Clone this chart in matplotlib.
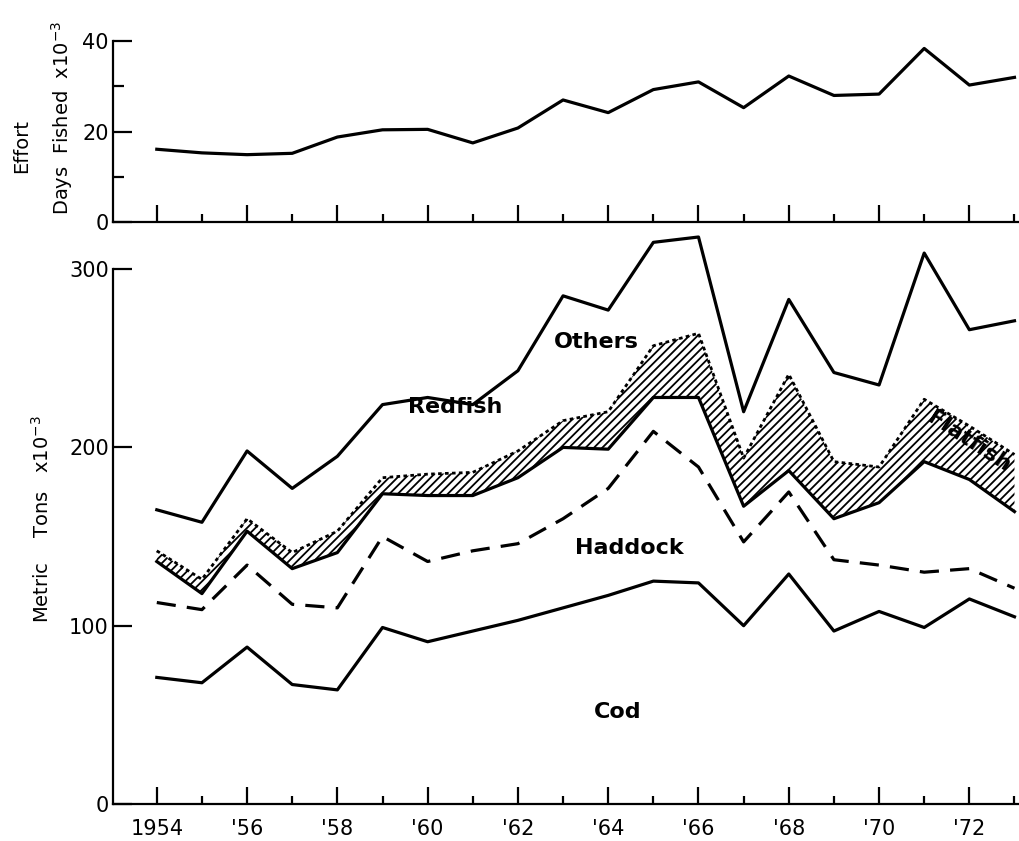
import numpy as np
from matplotlib import pyplot as plt
from matplotlib.ticker import MultipleLocator, FixedLocator

# years and values (thousands)
years = np.arange(1954, 1974)
effort = [16.1, 15.3, 14.9, 15.2, 18.8, 20.4, 20.5, 17.5, 20.8, 27.0,
          24.2, 29.3, 31.0, 25.3, 32.3, 28.0, 28.3, 38.4, 30.3, 32.0]
# cumulative catch levels, bottom band to top band
cod = [71, 68, 88, 67, 64, 99, 91, 97, 103, 110,
       117, 125, 124, 100, 129, 97, 108, 99, 115, 105]
haddock_top = [113, 109, 134, 112, 110, 150, 136, 142, 146, 160,
               177, 209, 189, 147, 175, 137, 134, 130, 132, 121]
redfish_top = [136, 118, 153, 132, 141, 174, 173, 173, 183, 200,
               199, 228, 228, 167, 187, 160, 169, 192, 182, 164]
flatfish_top = [142, 126, 160, 141, 153, 183, 185, 186, 198, 215,
                220, 257, 264, 194, 241, 192, 189, 227, 212, 196]
total = [165, 158, 198, 177, 195, 224, 228, 224, 243, 285,
         277, 315, 318, 220, 283, 242, 235, 309, 266, 271]
tick_labels = ["1954", "'56", "'58", "'60", "'62", "'64", "'66", "'68", "'70", "'72"]

plt.rcParams['font.family'] = 'DejaVu Sans'
plt.rcParams['hatch.linewidth'] = 1.3

fig = plt.figure(figsize=(10.19, 8.41), dpi=100)
ax_top = fig.add_axes([0.1109, 0.736, 0.8891, 0.215])
ax = fig.add_axes([0.1109, 0.044, 0.8891, 0.692])

lw = 2.3
# --- effort panel
ax_top.plot(years, effort, c='black', lw=lw)
ax_top.set_ylim(0, 40)
ax_top.yaxis.set_major_locator(FixedLocator([0, 20, 40]))
ax_top.yaxis.set_minor_locator(FixedLocator([10, 30]))

# --- catch panel
ax.plot(years, cod, c='black', lw=lw)
ax.plot(years, haddock_top, c='black', lw=lw, dashes=(6, 3.5))
ax.plot(years, redfish_top, c='black', lw=lw)
ax.fill_between(years, redfish_top, flatfish_top, facecolor='none',
                edgecolor='black', hatch='////', linewidth=0)
ax.plot(years, flatfish_top, c='black', lw=2.0, dashes=(1.3, 1.2))
ax.plot(years, total, c='black', lw=lw)
ax.set_ylim(0, 326.4)
ax.yaxis.set_major_locator(FixedLocator([0, 100, 200, 300]))
ax.spines['left'].set_bounds(0, 300)

for a in (ax_top, ax):
    a.set_xlim(1953.03, 1973.1)
    a.xaxis.set_major_locator(MultipleLocator(2))
    a.xaxis.set_minor_locator(MultipleLocator(1))
    a.spines['top'].set_visible(False)
    a.spines['right'].set_visible(False)
    for s in ('left', 'bottom'):
        a.spines[s].set_linewidth(1.6)
    a.tick_params(axis='both', which='major', direction='in', length=12,
                  width=1.6, labelsize=15, pad=3)
    a.tick_params(axis='both', which='minor', direction='in', length=6,
                  width=1.6)
    a.patch.set_alpha(0)

ax_top.tick_params(axis='x', which='major', labelbottom=False)
ax_top.tick_params(axis='y', which='major', length=14)
ax_top.tick_params(axis='y', which='minor', length=8)
ax.tick_params(axis='x', which='major', pad=11)
ax.tick_params(axis='y', which='major', length=14)
ax.set_xticks(np.arange(1954, 1973, 2))
ax.set_xticklabels(tick_labels)

# band labels
lab = dict(fontsize=16, fontweight='bold', ha='center', va='center')
ax.text(1963.73, 259, 'Others', **lab)
ax.text(1960.6, 222.7, 'Redfish', **lab)
ax.text(1964.46, 143.6, 'Haddock', **lab)
ax.text(1964.2, 51.6, 'Cod', **lab)
ax.text(1972.0, 203, 'Flatfish', rotation=-33, **lab)

# axis titles
fig.text(0.041, 1 - 519 / 841, 'Metric    Tons   x10$^{-3}$', rotation=90,
         ha='center', va='center', fontsize=14)
fig.text(0.021, 1 - 146 / 841, 'Effort', rotation=90,
         ha='center', va='center', fontsize=14)
fig.text(0.061, 1 - 118 / 841, 'Days  Fished  x10$^{-3}$', rotation=90,
         ha='center', va='center', fontsize=14)

fig.savefig('out.png', dpi=100)
